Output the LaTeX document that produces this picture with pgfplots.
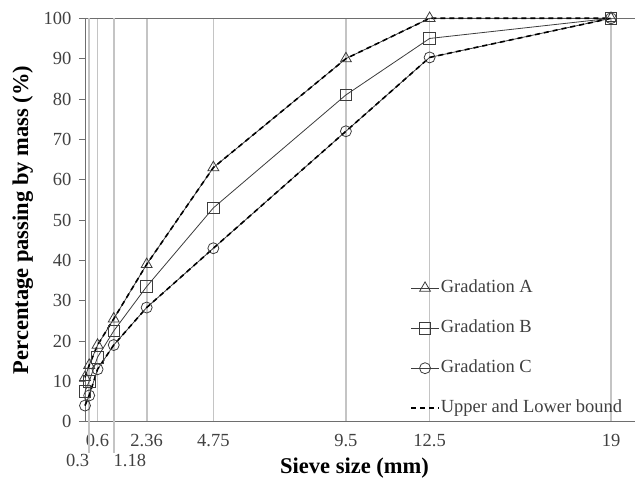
\documentclass[border=0pt]{standalone}
\usepackage{fontspec}
\setmainfont{Liberation Serif}
\usepackage{pgfplots}
\pgfplotsset{compat=1.18}
\definecolor{gridgray}{RGB}{196,196,196}
\definecolor{axgray}{RGB}{110,110,110}
\definecolor{txt}{RGB}{64,64,64}
\definecolor{mk}{RGB}{60,60,60}

% sieve size (mm) vs percentage passing
\pgfplotstableread{
x     A     B     C
0.15  11.0  7.5   4.0
0.3   14.0  10.0  6.5
0.6   19.0  16.0  13.0
1.18  25.5  22.5  19.0
2.36  39.0  33.5  28.3
4.75  63.0  53.0  43.0
9.5   90.0  81.0  72.0
12.5  100   95.0  90.3
19    100   100   100
}\grad

\begin{document}
\begin{tikzpicture}
\begin{axis}[
    scale only axis,
    width=550pt, height=403.4pt,
    xmin=0.15, xmax=19.86,
    ymin=0, ymax=100,
    axis x line=box, axis y line=left,
    axis line style={-, axgray, line width=0.9pt},
    xtick={0.6,2.36,4.75,9.5,12.5,19},
    xticklabels={0.6,2.36,4.75,9.5,12.5,19},
    ytick={0,10,...,100},
    xtick pos=bottom,
    xmajorgrids,
    grid style={gridgray, line width=1.7pt},
    xtick style={draw=none},
    ytick style={axgray, line width=0.9pt},
    major tick length=6pt,
    tick align=outside,
    tick label style={font=\fontsize{18.5}{22}\selectfont, text=txt},
    /pgf/number format/assume math mode=true,
    xticklabel style={yshift=-3pt},
    yticklabel style={xshift=-4pt},
    extra x ticks={0.3,1.18},
    extra x tick labels={\makebox[0pt][r]{0.3},\makebox[0pt][l]{1.18}},
    extra x tick style={
        grid=major,
        major tick length=31pt,
        xtick style={draw=gridgray, line width=1.7pt},
        xticklabel style={yshift=5pt},
    },
    xlabel={\textbf{Sieve size (mm)}},
    ylabel={\textbf{Percentage passing by mass (\%)}},
    label style={font=\fontsize{22.5}{26}\selectfont},
    xlabel style={at={(axis description cs:0.49,-0.115)}, anchor=center},
    ylabel style={at={(axis description cs:-0.113,0.5)}, anchor=center},
    legend style={
        at={(axis description cs:0.591,0.355)}, anchor=north west,
        draw=none, fill=none, inner sep=0pt,
        font=\fontsize{18.5}{22}\selectfont, text=txt,
        row sep=21pt,
        nodes={inner sep=1pt, text height=13pt, text depth=4pt},
    },
    legend cell align=left,
    legend image code/.code={
        \draw[mark repeat=2, mark phase=2]
        plot coordinates {(0pt,0pt) (14pt,0pt) (28pt,0pt)};
    },
    clip=false,
]
\addplot[mk, line width=0.8pt, mark=triangle, mark size=6.3pt,
    mark options={solid, mk, line width=0.8pt}] table[x=x, y=A] {\grad};
\addlegendentry{Gradation A}
\addplot[mk, line width=0.8pt, mark=square, mark size=5.8pt,
    mark options={solid, mk, line width=0.8pt}] table[x=x, y=B] {\grad};
\addlegendentry{Gradation B}
\addplot[mk, line width=0.8pt, mark=o, mark size=5.5pt,
    mark options={solid, mk, line width=0.8pt}] table[x=x, y=C] {\grad};
\addlegendentry{Gradation C}
\addplot[black, line width=1.6pt, dash pattern=on 5pt off 4pt] table[x=x, y=A] {\grad};
\addlegendentry{Upper and Lower bound}
\addplot[black, line width=1.6pt, dash pattern=on 5pt off 4pt, forget plot] table[x=x, y=C] {\grad};
\coordinate (sw) at (rel axis cs:0,0);
\coordinate (ne) at (rel axis cs:1,1);
\end{axis}
\pgfresetboundingbox
\path[use as bounding box] ([xshift=-85pt,yshift=-58.3pt]sw) rectangle ([yshift=18.3pt]ne);
\end{tikzpicture}
\end{document}
